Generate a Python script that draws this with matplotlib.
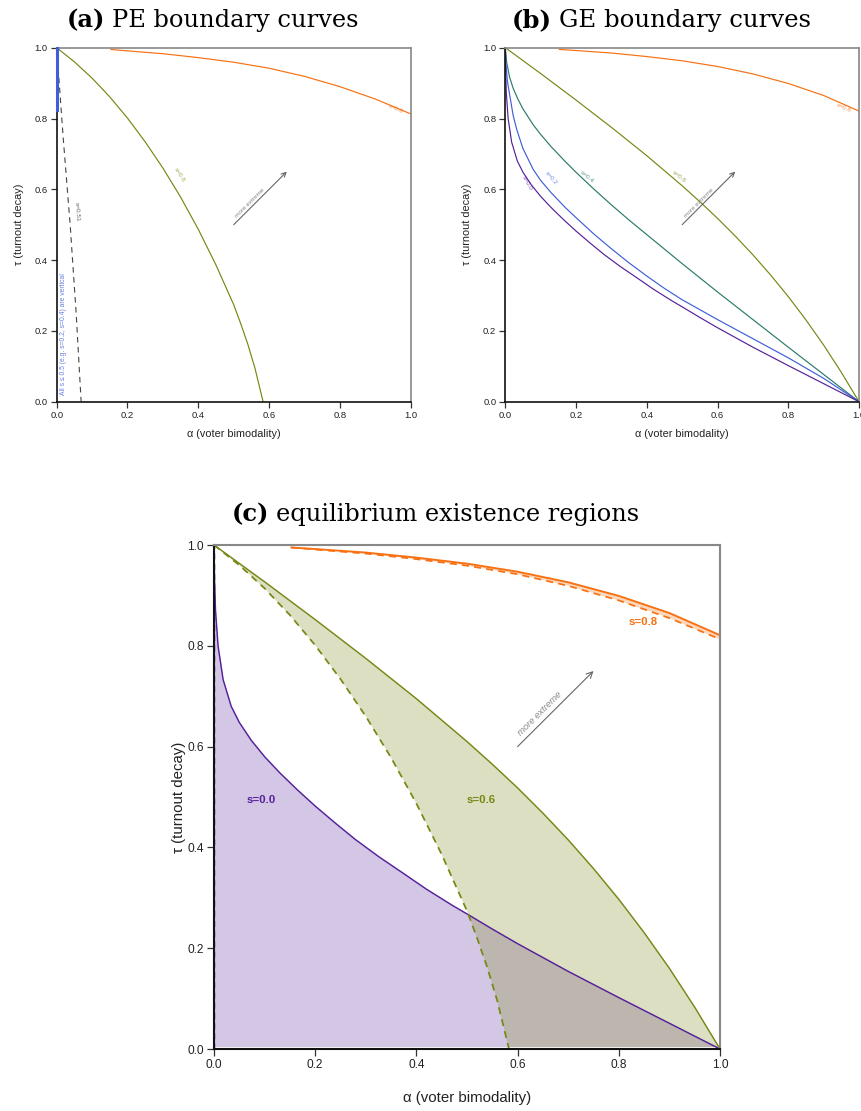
import numpy as np
import matplotlib
matplotlib.use("Agg")
import matplotlib.pyplot as plt

# ---------------- data ----------------
ticks = [0.0, 0.2, 0.4, 0.6, 0.8, 1.0]
tick_labels = ["0.0", "0.2", "0.4", "0.6", "0.8", "1.0"]

# PE boundary, s=0.8
pe08_a = [0.153, 0.2, 0.3, 0.4, 0.5, 0.6, 0.7, 0.8, 0.9, 1.0]
pe08_t = [0.995, 0.991, 0.983, 0.972, 0.959, 0.942, 0.919, 0.890, 0.855, 0.813]
# GE boundary, s=0.8
ge08_a = [0.153, 0.2, 0.3, 0.4, 0.5, 0.6, 0.7, 0.8, 0.9, 1.0]
ge08_t = [0.995, 0.992, 0.985, 0.975, 0.963, 0.947, 0.926, 0.899, 0.865, 0.821]
# PE boundary, s=0.6
pe06_a = [0.0, 0.05, 0.10, 0.15, 0.20, 0.25, 0.30, 0.35, 0.40, 0.45, 0.50, 0.52, 0.54, 0.56, 0.583]
pe06_t = [1.0, 0.960, 0.914, 0.861, 0.801, 0.734, 0.660, 0.578, 0.487, 0.386, 0.274, 0.220, 0.162, 0.095, 0.0]
# GE boundary, s=0.6
ge06_a = [0.0, 0.1, 0.2, 0.3, 0.4, 0.5, 0.55, 0.6, 0.65, 0.7, 0.75, 0.8, 0.85, 0.9, 0.95, 1.0]
ge06_t = [1.0, 0.927, 0.852, 0.775, 0.695, 0.610, 0.565, 0.518, 0.468, 0.415, 0.358, 0.297, 0.231, 0.160, 0.083, 0.0]
# PE boundary, s=0.51
pe051_a = [0.0, 0.018, 0.038, 0.055, 0.069]
pe051_t = [1.0, 0.75, 0.50, 0.25, 0.0]
# PE boundary, s<=0.5 (vertical at alpha=0)
pevert_a = [0.0, 0.0]
pevert_t = [0.823, 1.0]
# GE boundary, s=0.4
ge04_a = [0.0, 0.004, 0.012, 0.022, 0.035, 0.05, 0.079, 0.10, 0.13, 0.17, 0.20, 0.25, 0.30, 0.35, 0.40, 0.50, 0.60, 0.70, 0.80, 0.90, 1.0]
ge04_t = [1.0, 0.958, 0.917, 0.886, 0.856, 0.827, 0.782, 0.755, 0.720, 0.678, 0.648, 0.601, 0.556, 0.513, 0.472, 0.390, 0.310, 0.232, 0.154, 0.077, 0.0]
# GE boundary, s=0.2
ge02_a = [0.0, 0.002, 0.006, 0.013, 0.022, 0.032, 0.05, 0.079, 0.10, 0.13, 0.17, 0.20, 0.25, 0.30, 0.35, 0.40, 0.45, 0.50, 0.60, 0.70, 0.80, 0.90, 1.0]
ge02_t = [1.0, 0.95, 0.905, 0.863, 0.81, 0.77, 0.715, 0.656, 0.625, 0.59, 0.548, 0.52, 0.474, 0.432, 0.392, 0.355, 0.320, 0.288, 0.232, 0.178, 0.124, 0.066, 0.0]
# GE boundary, s=0.0
ge00_a = [0.0, 0.001, 0.003, 0.008, 0.018, 0.034, 0.05, 0.074, 0.10, 0.13, 0.165, 0.20, 0.24, 0.279, 0.325, 0.372, 0.42, 0.471, 0.50, 0.55, 0.60, 0.70, 0.80, 0.90, 1.0]
ge00_t = [1.0, 0.93, 0.87, 0.80, 0.733, 0.68, 0.648, 0.612, 0.58, 0.548, 0.514, 0.482, 0.448, 0.416, 0.382, 0.350, 0.317, 0.285, 0.268, 0.238, 0.209, 0.154, 0.102, 0.051, 0.0]

# ---------------- styles ----------------
C_PUR = "#55209a"
C_BLU = "#3f5fd8"
C_TEA = "#2b7a6b"
C_OLI = "#788714"
C_ORA = "#f77011"
SANS = "Liberation Sans"
SERIF = "DejaVu Serif"

W, H = 862, 1111
fig = plt.figure(figsize=(W / 100, H / 100), dpi=100)


def rect(l, t, r, b):
    return [l / W, 1 - b / H, (r - l) / W, (b - t) / H]


axA = fig.add_axes(rect(56.7, 47.7, 410.7, 401.7))
axB = fig.add_axes(rect(505.3, 47.7, 859.0, 401.7))
axC = fig.add_axes(rect(214.0, 545.0, 720.0, 1049.0))


def style(ax, tfs, lfs, tlen, lw_sp, xlab_y, ylab_x):
    ax.set_xlim(0, 1)
    ax.set_ylim(0, 1)
    ax.set_xticks(ticks)
    ax.set_yticks(ticks)
    ax.set_xticklabels(tick_labels, fontfamily=SANS)
    ax.set_yticklabels(tick_labels, fontfamily=SANS)
    ax.tick_params(direction="out", length=tlen, width=0.9, labelsize=tfs,
                   color="#333333", labelcolor="#222222", pad=2.5)
    for s in ["left", "bottom"]:
        ax.spines[s].set_color("#111111")
        ax.spines[s].set_linewidth(lw_sp)
    for s in ["top", "right"]:
        ax.spines[s].set_color("#888888")
        ax.spines[s].set_linewidth(lw_sp)
    ax.set_xlabel("α (voter bimodality)", fontsize=lfs, fontfamily=SANS, color="#222222")
    ax.set_ylabel("τ (turnout decay)", fontsize=lfs, fontfamily=SANS, color="#222222")
    ax.xaxis.set_label_coords(0.5, xlab_y)
    ax.yaxis.set_label_coords(ylab_x, 0.5)


style(axA, 6.8, 7.8, 4, 1.2, -0.077, -0.092)
style(axB, 6.8, 7.8, 4, 1.2, -0.077, -0.094)
style(axC, 8.6, 10.8, 5, 1.5, -0.083, -0.055)

# ---------------- panel (a) ----------------
lw_ab = 0.85
axA.plot(pe08_a, pe08_t, color=C_ORA, lw=lw_ab)
axA.plot(pe06_a, pe06_t, color=C_OLI, lw=lw_ab)
axA.plot(pe051_a, pe051_t, color="#444444", lw=0.8, ls=(0, (5, 4)))
axA.plot(pevert_a, pevert_t, color=C_BLU, lw=2.2, clip_on=False, zorder=3)
fs_lab = 4.6
axA.text(0.957, 0.826, "s=0.8", color=C_ORA, alpha=0.75, fontsize=fs_lab, rotation=-24,
         ha="center", va="center", fontfamily=SANS, rotation_mode="anchor")
axA.text(0.348, 0.640, "s=0.6", color=C_OLI, alpha=0.75, fontsize=fs_lab, rotation=-57,
         ha="center", va="center", fontfamily=SANS, rotation_mode="anchor")
axA.text(0.058, 0.537, "s=0.51", color="#666666", fontsize=fs_lab, rotation=-86,
         ha="center", va="center", fontfamily=SANS, rotation_mode="anchor")
axA.text(0.018, 0.19, "All s ≤ 0.5 (e.g. s=0.2, s=0.4) are vertical", color=C_BLU, alpha=0.8,
         fontsize=4.9, rotation=90, ha="center", va="center", fontfamily=SANS)

# ---------------- panel (b) ----------------
axB.plot(ge08_a, ge08_t, color=C_ORA, lw=lw_ab)
axB.plot(ge06_a, ge06_t, color=C_OLI, lw=lw_ab)
axB.plot(ge04_a, ge04_t, color=C_TEA, lw=lw_ab)
axB.plot(ge02_a, ge02_t, color=C_BLU, lw=lw_ab)
axB.plot(ge00_a, ge00_t, color=C_PUR, lw=lw_ab)
for (x, y, txt, c, r) in [(0.062, 0.617, "s=0.0", C_PUR, -60),
                          (0.129, 0.633, "s=0.2", C_BLU, -50),
                          (0.232, 0.636, "s=0.4", C_TEA, -40),
                          (0.492, 0.636, "s=0.6", C_OLI, -38),
                          (0.957, 0.830, "s=0.8", C_ORA, -24)]:
    axB.text(x, y, txt, color=c, alpha=0.75, fontsize=fs_lab, rotation=r,
             ha="center", va="center", fontfamily=SANS, rotation_mode="anchor")

for ax in (axA, axB):
    ax.annotate("", xy=(0.65, 0.65), xytext=(0.5, 0.5),
                arrowprops=dict(arrowstyle="->", color="#666666", lw=0.8,
                                shrinkA=0, shrinkB=0, mutation_scale=8))
    ax.text(0.546, 0.562, "more extreme", color="#888888", fontsize=fs_lab, rotation=45,
            ha="center", va="center", fontfamily=SANS, rotation_mode="anchor")

# ---------------- panel (c) ----------------
lw_c = 1.05
dash = (0, (4, 3))
axC.fill_between(ge00_a, 0.004, ge00_t, color=C_PUR, alpha=0.25, lw=0, zorder=1)
axC.fill(np.r_[ge06_a, pe06_a[::-1]], np.r_[np.array(ge06_t), np.array(pe06_t)[::-1]],
         color=C_OLI, alpha=0.26, lw=0, zorder=1.1)
axC.fill(np.r_[ge08_a, pe08_a[::-1]], np.r_[np.array(ge08_t), np.array(pe08_t)[::-1]],
         color=C_ORA, alpha=0.28, lw=0, zorder=1.2)
axC.axhline(0.002, color="white", lw=2.0, zorder=1.5)
axC.plot(ge00_a, ge00_t, color=C_PUR, lw=lw_c, zorder=2)
axC.plot([0, 0], [0, 1], color=C_PUR, lw=lw_c, ls=dash, zorder=2, clip_on=False)
axC.plot(ge06_a, ge06_t, color=C_OLI, lw=lw_c, zorder=2)
axC.plot(pe06_a, pe06_t, color=C_OLI, lw=lw_c * 1.2, ls=dash, zorder=2)
axC.plot(ge08_a, ge08_t, color=C_ORA, lw=lw_c * 1.3, zorder=2)
axC.plot(pe08_a, pe08_t, color=C_ORA, lw=lw_c * 1.2, ls=dash, zorder=2)
axC.text(0.093, 0.494, "s=0.0", color=C_PUR, fontsize=8.2, fontweight="bold",
         ha="center", va="center", fontfamily=SANS)
axC.text(0.527, 0.494, "s=0.6", color=C_OLI, fontsize=8.2, fontweight="bold",
         ha="center", va="center", fontfamily=SANS)
axC.text(0.848, 0.847, "s=0.8", color=C_ORA, fontsize=8.2, fontweight="bold",
         ha="center", va="center", fontfamily=SANS)
axC.annotate("", xy=(0.75, 0.75), xytext=(0.6, 0.6),
             arrowprops=dict(arrowstyle="->", color="#666666", lw=0.8,
                             shrinkA=0, shrinkB=0, mutation_scale=11))
axC.text(0.643, 0.665, "more extreme", color="#888888", fontsize=6.8, rotation=45,
         style="italic", ha="center", va="center", fontfamily=SANS, rotation_mode="anchor")

# ---------------- titles (bold tag + regular text, fitted to widths) ----------------
fig.canvas.draw()
ren = fig.canvas.get_renderer()


def title(cx, base_y, tag, rest, target_w):
    fs = 10.0
    t1 = fig.text(0, 0, tag, fontsize=fs, fontweight="bold", fontfamily=SERIF)
    t2 = fig.text(0, 0, rest, fontsize=fs, fontfamily=SERIF)
    w1 = t1.get_window_extent(ren).width
    w2 = t2.get_window_extent(ren).width
    gap = 0.3 * fs * 100 / 72
    scale = target_w / (w1 + w2 + gap)
    t1.set_fontsize(fs * scale)
    t2.set_fontsize(fs * scale)
    w1 *= scale
    w2 *= scale
    gap *= scale
    x0 = cx - (w1 + w2 + gap) / 2
    yb = 1 - base_y / H
    t1.set_position((x0 / W, yb))
    t1.set_va("baseline")
    t2.set_position(((x0 + w1 + gap) / W, yb))
    t2.set_va("baseline")


title(213, 27, "(a)", "PE boundary curves", 293)
title(662, 27, "(b)", "GE boundary curves", 301)
title(437, 521, "(c)", "equilibrium existence regions", 411)

fig.savefig("out.png", dpi=100)
